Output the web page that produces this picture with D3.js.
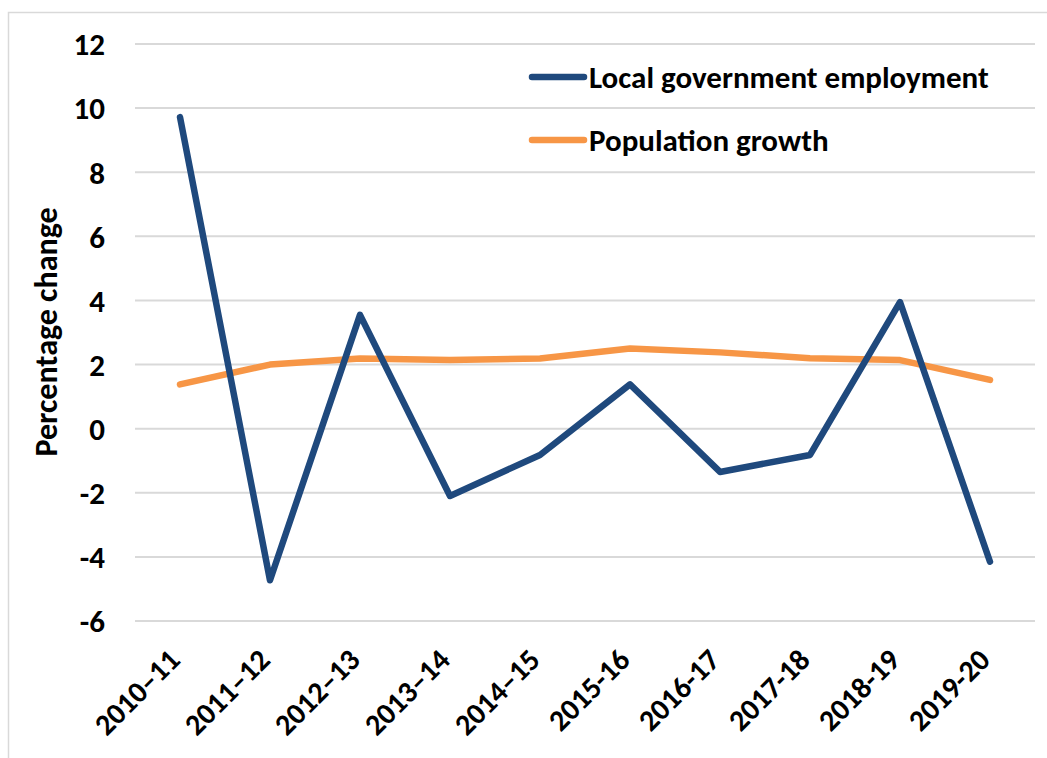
<!DOCTYPE html>
<html>
<head>
<meta charset="utf-8">
<script src="https://cdn.jsdelivr.net/npm/d3@7"></script>
<style>
  body { margin: 0; background: #fff; }
  svg text { font-family: Carlito, Lato, "Open Sans", sans-serif; font-weight: bold; fill: #000; }
</style>
</head>
<body>
<svg id="chart"></svg>
<script>
// data
let years = ['2010–11','2011–12','2012–13','2013–14','2014–15','2015-16','2016-17','2017-18','2018-19','2019-20'];
let localGov = [9.72, -4.73, 3.55, -2.1, -0.82, 1.38, -1.35, -0.82, 3.95, -4.15];
let popGrowth = [1.38, 2.0, 2.19, 2.14, 2.19, 2.5, 2.38, 2.2, 2.14, 1.52];
let yTicks = [12, 10, 8, 6, 4, 2, 0, -2, -4, -6];

let width = 1047, height = 758;
let plotLeft = 135, plotRight = 1035, plotTop = 44, plotBottom = 621;

let svg = d3.select('#chart')
    .attr('width', width)
    .attr('height', height);

// chart frame (only the top and left edges show)
svg.append('rect')
    .attr('x', 8.5).attr('y', 12.5)
    .attr('width', 1100).attr('height', 900)
    .attr('fill', 'none')
    .attr('stroke', '#d9d9d9')
    .attr('stroke-width', 1.5);

let x = d3.scaleBand()
    .domain(years)
    .range([plotLeft, plotRight]);

let y = d3.scaleLinear()
    .domain([-6, 12])
    .range([plotBottom, plotTop]);

// gridlines
svg.append('g')
    .selectAll('line')
    .data(yTicks)
    .enter()
    .append('line')
    .attr('x1', plotLeft)
    .attr('x2', plotRight)
    .attr('y1', d => y(d))
    .attr('y2', d => y(d))
    .attr('stroke', '#d9d9d9')
    .attr('stroke-width', 2);

// y axis labels (plain hyphen for negatives, like the original)
let yAxis = d3.axisLeft(y)
    .tickValues(yTicks)
    .tickFormat(d => String(d))
    .tickSize(0)
    .tickPadding(0);

let gy = svg.append('g')
    .attr('transform', 'translate(105,0)')
    .call(yAxis);
gy.select('.domain').remove();
gy.attr('font-family', null).attr('font-size', null);
gy.selectAll('text')
    .attr('font-size', 31)
    .attr('dy', '0.35em');

// x axis labels, rotated
let xAxis = d3.axisBottom(x)
    .tickSize(0)
    .tickPadding(0);

let gx = svg.append('g')
    .attr('transform', 'translate(0,' + (plotBottom + 36) + ')')
    .call(xAxis);
gx.select('.domain').remove();
gx.attr('font-family', null).attr('font-size', null);
gx.selectAll('text')
    .attr('font-size', 30)
    .attr('text-anchor', 'end')
    .attr('dy', '0.7em')
    .attr('transform', 'translate(-13,-10) rotate(-45)');

// y axis title
svg.append('text')
    .attr('transform', 'translate(57,332) rotate(-90)')
    .attr('text-anchor', 'middle')
    .attr('font-size', 32)
    .text('Percentage change');

let line = d3.line()
    .x((d, i) => x(years[i]) + x.bandwidth() / 2)
    .y(d => y(d));

let series = [
    { name: 'Local government employment', values: localGov, color: '#1f497d' },
    { name: 'Population growth', values: popGrowth, color: '#f79646' }
];

// draw population first so the blue line sits on top
svg.append('path')
    .attr('d', line(popGrowth))
    .attr('fill', 'none')
    .attr('stroke', '#f79646')
    .attr('stroke-width', 6.5)
    .attr('stroke-linecap', 'round')
    .attr('stroke-linejoin', 'round');

svg.append('path')
    .attr('d', line(localGov))
    .attr('fill', 'none')
    .attr('stroke', '#1f497d')
    .attr('stroke-width', 6.5)
    .attr('stroke-linecap', 'round')
    .attr('stroke-linejoin', 'round');

// legend
let legend = svg.append('g')
    .selectAll('g')
    .data(series)
    .enter()
    .append('g')
    .attr('transform', (d, i) => 'translate(532,' + (77 + i * 63) + ')');

legend.append('line')
    .attr('x1', 0).attr('x2', 52)
    .attr('stroke', d => d.color)
    .attr('stroke-width', 6.5)
    .attr('stroke-linecap', 'round');

legend.append('text')
    .attr('x', 57)
    .attr('dy', '0.35em')
    .attr('font-size', 31)
    .text(d => d.name);
</script>
</body>
</html>
